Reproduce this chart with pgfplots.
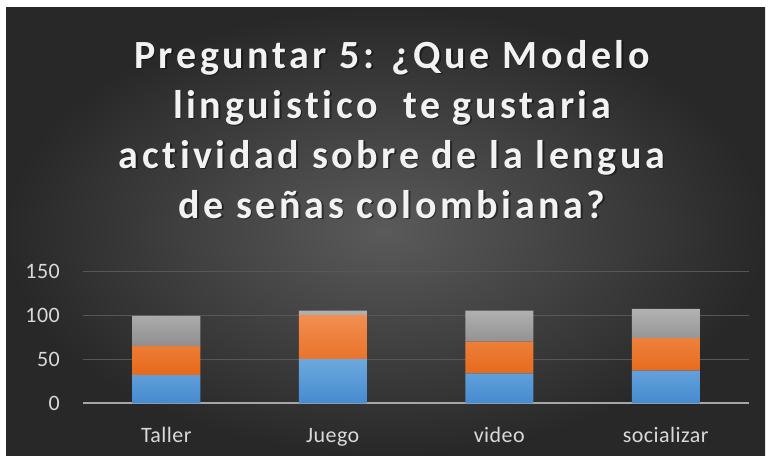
\documentclass[border=0pt]{standalone}
\usepackage{pgfplots}
\usepackage{pgfplotstable}
\pgfplotsset{compat=1.18}
\usepackage{fontspec}
\setmainfont{Carlito}
\newfontfamily\titlefont[LetterSpace=9,Ligatures=NoCommon]{Carlito}
\newfontfamily\tickfont[LetterSpace=2,Ligatures=NoCommon]{Carlito}

\definecolor{blueT}{HTML}{6CA8DE}
\definecolor{blueB}{HTML}{468BCF}
\definecolor{orangeT}{HTML}{F28E52}
\definecolor{orangeB}{HTML}{E66A1A}
\definecolor{grayT}{HTML}{B2B2B2}
\definecolor{grayB}{HTML}{8E8E8E}
\definecolor{gridc}{HTML}{575757}
\definecolor{basec}{HTML}{A6A6A6}
\definecolor{tickc}{HTML}{D9D9D9}
\definecolor{bgin}{HTML}{5A5A5A}
\definecolor{bgout}{HTML}{282828}

\pgfplotstableread{
x cat a b c
0 Taller 32 33 34
1 Juego 50 50 5
2 video 34 36 35
3 socializar 37 37 33
}\datatable

\begin{document}
\begin{tikzpicture}[x=1pt,y=1pt]
% fondo
\fill[white] (0,0) rectangle (769,459);
\shade[inner color=bgin, outer color=bgout] (6,4) rectangle (765,451);

% titulo
\begin{scope}[every node/.style={anchor=base, inner sep=0, font=\titlefont\bfseries\fontsize{40}{50}\selectfont}]
\foreach \t/\yy in {{Preguntar 5: ¿Que Modelo}/390.7, {linguistico\ \ te gustaria}/340.7, {actividad sobre de la lengua}/290.7, {de señas colombiana?}/240.7}{
  \node[text=black, opacity=0.45] at (393.5,\yy-1.5) {\t};
  \node[text=white!95!black] at (392,\yy) {\t};
}
\end{scope}

\begin{axis}[
  at={(83pt,55.7pt)}, anchor=south west,
  scale only axis, width=666pt, height=132.3pt,
  xmin=-0.5, xmax=3.5, ymin=0, ymax=150,
  ybar stacked, bar width=68pt,
  axis line style={draw=none},
  major tick length=0pt,
  xtick=data, xticklabels={Taller,Juego,video,socializar},
  ytick={0,50,100,150},
  ymajorgrids, grid style={color=gridc, line width=1pt},
  tick label style={font=\tickfont\fontsize{22}{22}\selectfont, text=tickc, inner sep=0pt},
  /pgf/number format/assume math mode=true,
  yticklabel style={anchor=east, xshift=-23pt},
  xticklabel style={anchor=base, yshift=-38.7pt},
  clip=false,
]
\addplot[draw=none, top color=blueT, bottom color=blueB] table[x=x,y=a]{\datatable};
\addplot[draw=none, top color=orangeT, bottom color=orangeB] table[x=x,y=b]{\datatable};
\addplot[draw=none, top color=grayT, bottom color=grayB] table[x=x,y=c]{\datatable};
\draw[basec, line width=2pt] (axis cs:-0.5,0) -- (axis cs:3.5,0);
\end{axis}
\end{tikzpicture}
\end{document}
